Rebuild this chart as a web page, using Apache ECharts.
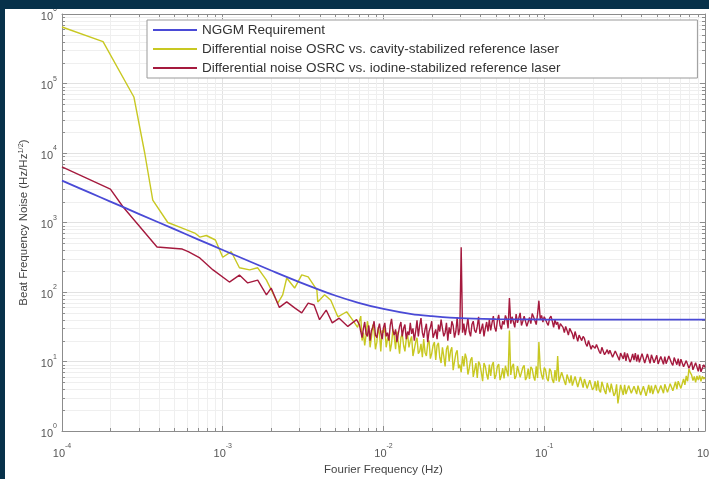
<!DOCTYPE html>
<html>
<head>
<meta charset="utf-8">
<script src="https://cdn.jsdelivr.net/npm/echarts@6/dist/echarts.min.js"></script>
<style>
  html, body { margin: 0; padding: 0; width: 709px; height: 479px; overflow: hidden; background: #07314a; }
  #frame { position: absolute; left: 5px; top: 9px; width: 704px; height: 470px; background: #fff; }
  #chart { width: 704px; height: 470px; }
</style>
</head>
<body>
<div id="frame"><div id="chart"></div></div>
<script>
// tick labels (exponents of 10)
var xExp = ['-4', '-3', '-2', '-1', '0'];
var yExp = ['0', '1', '2', '3', '4', '5', '6'];
var minorMant = [2, 3, 4, 5, 6, 7, 8, 9];
var xDecades = [1e-4, 1e-3, 1e-2, 1e-1];
var yDecades = [1, 10, 100, 1000, 1e4, 1e5];

// NGGM requirement [Hz, Hz/sqrt(Hz)]
var requirement = [
  [1e-4, 4000], [1.5e-4, 2667], [2e-4, 2000], [3e-4, 1334], [5e-4, 801], [7e-4, 573],
  [1e-3, 402], [1.5e-3, 270], [2e-3, 204], [3e-3, 139], [5e-3, 89], [7e-3, 70],
  [1e-2, 57], [1.5e-2, 48], [2e-2, 45], [3e-2, 42], [5e-2, 40.8], [1e-1, 40.2], [1, 40]
];

// low frequency part, read point by point
var cavityLow = [
  [1e-4, 650000], [1.8e-4, 400000], [2.8e-4, 64000], [3.27e-4, 10000], [3.67e-4, 2100],
  [4.55e-4, 1000], [5.6e-4, 830], [6.7e-4, 705], [7.2e-4, 617], [7.9e-4, 650], [9e-4, 560],
  [1e-3, 316], [1.13e-3, 380], [1.27e-3, 223], [1.47e-3, 208], [1.65e-3, 223], [1.87e-3, 148],
  [2.2e-3, 69], [2.36e-3, 91], [2.5e-3, 159], [2.8e-3, 114], [3.1e-3, 176], [3.4e-3, 165],
  [3.85e-3, 107], [3.9e-3, 72], [4.3e-3, 91], [4.7e-3, 76], [5.2e-3, 44], [5.9e-3, 52],
  [6.4e-3, 40], [6.9e-3, 31]
];
var iodineLow = [
  [1e-4, 6300], [2e-4, 3030], [2.4e-4, 1670], [3.9e-4, 445], [5.6e-4, 415], [6.1e-4, 380],
  [7.2e-4, 309], [8.7e-4, 208], [1.1e-3, 139], [1.27e-3, 175], [1.43e-3, 135], [1.65e-3, 148],
  [1.87e-3, 91], [2e-3, 114], [2.25e-3, 60], [2.5e-3, 72], [2.8e-3, 59], [3.1e-3, 50],
  [3.4e-3, 69], [3.7e-3, 65], [4e-3, 40], [4.4e-3, 55], [4.8e-3, 36], [5.3e-3, 42],
  [6e-3, 32], [6.8e-3, 40]
];

// high frequency part, shared frequency bins (Hz)
var hiFreq = [
  0.00708, 0.00722, 0.00736, 0.00750, 0.00764, 0.00779, 0.00794, 0.00810, 0.00825, 0.00841,
  0.00858, 0.00874, 0.00891, 0.00909, 0.00926, 0.00944, 0.00962, 0.00981,
  0.01000, 0.01019, 0.01039, 0.01059, 0.01080, 0.01101, 0.01122, 0.01144, 0.01166, 0.01189,
  0.01212, 0.01235, 0.01259, 0.01283, 0.01308, 0.01334, 0.01359, 0.01386, 0.01413, 0.01440,
  0.01468, 0.01496, 0.01525, 0.01555, 0.01585, 0.01616, 0.01647, 0.01679, 0.01711, 0.01745,
  0.01778, 0.01813, 0.01848, 0.01884, 0.01920, 0.01957, 0.01995, 0.02034, 0.02073, 0.02113,
  0.02154, 0.02196, 0.02239, 0.02282, 0.02326, 0.02371, 0.02417, 0.02464, 0.02512, 0.02561,
  0.02610, 0.02661, 0.02712, 0.02765, 0.02818, 0.02873, 0.02929, 0.02985, 0.03043, 0.03102,
  0.03162, 0.03224, 0.03286, 0.03350, 0.03415, 0.03481, 0.03548, 0.03617, 0.03687, 0.03758,
  0.03831, 0.03905, 0.03981, 0.04058, 0.04137, 0.04217, 0.04299, 0.04382, 0.04467, 0.04553,
  0.04642, 0.04732, 0.04823, 0.04917, 0.05012, 0.05109, 0.05208, 0.05309, 0.05412, 0.05517,
  0.05623, 0.05732, 0.05843, 0.05957, 0.06072, 0.06190, 0.06310, 0.06432, 0.06556, 0.06683,
  0.06813, 0.06945, 0.07079, 0.07217, 0.07356, 0.07499, 0.07644, 0.07792, 0.07943, 0.08097,
  0.08254, 0.08414, 0.08577, 0.08743, 0.08913, 0.09085, 0.09261, 0.09441, 0.09624, 0.09810,
  0.1000, 0.1019, 0.1039, 0.1059, 0.1080, 0.1101, 0.1122, 0.1144, 0.1166, 0.1189,
  0.1212, 0.1235, 0.1259, 0.1283, 0.1308, 0.1334, 0.1359, 0.1386, 0.1413, 0.1440,
  0.1468, 0.1496, 0.1525, 0.1555, 0.1585, 0.1616, 0.1647, 0.1679, 0.1711, 0.1745,
  0.1778, 0.1813, 0.1848, 0.1884, 0.1920, 0.1957, 0.1995, 0.2034, 0.2073, 0.2113,
  0.2154, 0.2196, 0.2239, 0.2282, 0.2326, 0.2371, 0.2417, 0.2464, 0.2512, 0.2561,
  0.2610, 0.2661, 0.2712, 0.2765, 0.2818, 0.2873, 0.2929, 0.2985, 0.3043, 0.3102,
  0.3162, 0.3224, 0.3286, 0.3350, 0.3415, 0.3481, 0.3548, 0.3617, 0.3687, 0.3758,
  0.3831, 0.3905, 0.3981, 0.4058, 0.4137, 0.4217, 0.4299, 0.4382, 0.4467, 0.4553,
  0.4642, 0.4732, 0.4823, 0.4917, 0.5012, 0.5109, 0.5208, 0.5309, 0.5412, 0.5517,
  0.5623, 0.5732, 0.5843, 0.5957, 0.6072, 0.6190, 0.6310, 0.6432, 0.6556, 0.6683,
  0.6813, 0.6945, 0.7079, 0.7217, 0.7356, 0.7499, 0.7644, 0.7792, 0.7943, 0.8097,
  0.8254, 0.8414, 0.8577, 0.8743, 0.8913, 0.9085, 0.9261, 0.9441, 0.9624, 0.9810,
  1.0
];
var cavityHi = [
  32, 45, 20, 26, 17, 24, 38, 29, 16, 22,
  34, 27, 15, 19, 31, 25, 14, 28,
  26, 31, 16, 21, 24, 14, 18, 29, 23, 15,
  27, 19, 13, 22, 25, 17, 14, 21, 24, 16,
  20, 23, 12, 15, 19, 22, 13, 14, 18, 11.5,
  21, 13.5, 12, 18, 20, 11, 13, 17, 19, 10.5,
  17, 18.5, 11.5, 9.5, 16, 12, 8.5, 15, 17, 10,
  14, 16, 7.5, 10, 13, 14.5, 8, 9, 7, 12,
  8.5, 13, 11, 6.5, 8, 10.5, 11.5, 6, 7.5, 9.5,
  5.8, 10, 9, 7, 5.2, 9.5, 8.5, 6.5, 5.5, 9,
  6.2, 8.8, 9.8, 5.6, 6.4, 8.5, 9.2, 5.4, 6.3, 8,
  5.7, 8.7, 9, 6.1, 28, 6.4, 8.4, 9.3, 5.6, 6.2,
  8.6, 9.1, 5.9, 6.3, 8.2, 8.8, 5.4, 6, 7.9, 5.6,
  8.4, 7.8, 6.1, 5.3, 8.5, 5.8, 19, 8.1, 6.4, 5.5,
  8.2, 7.6, 5.7, 5.2, 7.9, 7.3, 5.5, 4.9, 7.5, 5.3,
  12, 5.1, 4.8, 7, 6.8, 5.2, 4.6, 6.5, 6.7, 4.9,
  6.3, 4.5, 4.7, 6.1, 5.9, 4.3, 4.4, 6, 5.7, 4.2,
  5.6, 5.8, 4.1, 4.3, 5.4, 5.5, 3.9, 4.2, 5.2, 3.8,
  5.3, 3.9, 3.6, 5.1, 5, 3.8, 3.4, 4.9, 5, 3.6,
  4.8, 4.9, 3.2, 3.5, 4.7, 2.5, 3.4, 4.6, 4.8, 3.3,
  4.6, 3.4, 3.2, 4.5, 4.7, 3.5, 3.3, 4.4, 4.6, 3.4,
  4.5, 4.7, 3.3, 3.5, 4.4, 4.5, 3.2, 3.4, 4.6, 3.5,
  4.5, 3.4, 3.3, 4.6, 4.7, 3.5, 3.6, 4.5, 4.8, 3.5,
  4.7, 4.9, 3.6, 3.7, 4.8, 5, 3.8, 3.9, 5.1, 4,
  5.2, 5.4, 4.1, 4.3, 5.6, 4.6, 6.2, 5.2, 7.8, 6.9,
  6.4, 5.3, 6.1, 5, 6.2, 5.4, 6.3, 5.2, 6.1, 5.6,
  5.9
];
var iodineHi = [
  34, 27, 22, 30, 37, 25, 23, 33, 20, 28,
  31, 38, 24, 22, 29, 35, 26, 21,
  31, 36, 23, 26, 20, 33, 41, 28, 24, 29,
  19, 25, 32, 37, 23, 30, 34, 21, 27, 24,
  36, 25, 30, 20, 27, 39, 23, 33, 42, 26,
  22, 29, 35, 19, 27, 31, 38, 22, 25, 29,
  21, 34, 27, 40, 30, 23, 26, 36, 20, 31,
  25, 38, 33, 22, 27, 43, 24, 30, 440, 26,
  35, 24, 31, 42, 27, 23, 34, 38, 28, 26,
  32, 44, 25, 29, 35, 23, 30, 37, 27, 40,
  28, 36, 45, 31, 27, 39, 47, 33, 29, 38,
  34, 46, 41, 30, 82, 35, 44, 37, 31, 48,
  36, 42, 50, 33, 38, 45, 47, 32, 37, 43,
  35, 49, 44, 39, 34, 48, 75, 41, 46, 37,
  44, 47, 36, 33, 42, 45, 38, 31, 40, 34,
  37, 29, 35, 33, 31, 26, 32, 28, 24, 30,
  29, 25, 21, 27, 26, 19.5, 24, 23, 20, 23,
  21.5, 18, 16.5, 20, 19.5, 15, 17, 18, 15.5, 17.5,
  16.5, 14, 13, 16, 15.5, 12.5, 13.5, 14.8, 12.8, 14.5,
  15, 11.5, 10.8, 14.2, 14.5, 11.6, 10.4, 13.2, 13.8, 10.9,
  13.5, 10.2, 13.1, 12.8, 9.8, 10.9, 12.9, 10.5, 13.2, 10,
  12.6, 9.7, 10.3, 13, 12.3, 9.5, 10, 12.8, 12.1, 9.4,
  12.5, 12, 9.6, 10, 12.3, 9.2, 9.8, 11.8, 12.1, 9.1,
  11.8, 9.3, 9, 12, 11.5, 9.5, 8.8, 11.4, 11.3, 9,
  11, 8.6, 10.8, 10.5, 8.4, 8.3, 10.3, 10.2, 8, 7.9,
  9.9, 7.6, 7.4, 9.6, 9.4, 7.2, 9.2, 7.1, 7.4, 9,
  8.2
];

function withHi(low, hi) {
  return low.concat(hiFreq.map(function (f, i) { return [f, hi[i]]; }));
}

var minorData = [];
xDecades.forEach(function (d) {
  minorMant.forEach(function (m) { minorData.push([m * d, 1, 0]); });
});
yDecades.forEach(function (d) {
  minorMant.forEach(function (m) { minorData.push([1e-4, m * d, 1]); });
});

function renderMinor(params, api) {
  var isX = api.value(2) === 0;
  var a, b, t = 3;
  if (isX) {
    a = api.coord([api.value(0), 1]);
    b = api.coord([api.value(0), 1e6]);
    var x = Math.round(a[0]) + 0.5;
    return { type: 'group', children: [
      { type: 'line', shape: { x1: x, y1: a[1], x2: x, y2: b[1] }, style: { stroke: '#efefef', lineWidth: 1 } },
      { type: 'line', shape: { x1: x, y1: a[1], x2: x, y2: a[1] - t }, style: { stroke: '#8c8c8c', lineWidth: 1 } },
      { type: 'line', shape: { x1: x, y1: b[1], x2: x, y2: b[1] + t }, style: { stroke: '#8c8c8c', lineWidth: 1 } }
    ] };
  }
  a = api.coord([1e-4, api.value(1)]);
  b = api.coord([1, api.value(1)]);
  var y = Math.round(a[1]) + 0.5;
  return { type: 'group', children: [
    { type: 'line', shape: { x1: a[0], y1: y, x2: b[0], y2: y }, style: { stroke: '#efefef', lineWidth: 1 } },
    { type: 'line', shape: { x1: a[0], y1: y, x2: a[0] + t, y2: y }, style: { stroke: '#8c8c8c', lineWidth: 1 } },
    { type: 'line', shape: { x1: b[0], y1: y, x2: b[0] - t, y2: y }, style: { stroke: '#8c8c8c', lineWidth: 1 } }
  ] };
}

var fontFam = '"Liberation Sans", Arial, sans-serif';
var expRich = {
  b: { fontSize: 11, color: '#555', fontFamily: fontFam, lineHeight: 16, verticalAlign: 'bottom' },
  s: { fontSize: 7, color: '#555', fontFamily: fontFam, lineHeight: 16, verticalAlign: 'top' }
};
var axisCol = '#8c8c8c';

function logAxis(pos, show, labels) {
  return {
    type: 'log', logBase: 10, position: pos,
    axisLine: { show: true, lineStyle: { color: axisCol, width: 1 } },
    axisTick: { show: true, inside: true, length: 5, lineStyle: { color: axisCol } },
    splitLine: { show: show, lineStyle: { color: '#e2e2e2', width: 1 } },
    axisLabel: show ? {
      show: true,
      formatter: function (v, i) { return '{b|10}{s|' + labels[i] + '}'; },
      rich: expRich
    } : { show: false }
  };
}

var xBottom = logAxis('bottom', true, xExp);
xBottom.min = 1e-4; xBottom.max = 1;
xBottom.axisLabel.margin = 12;
xBottom.name = 'Fourier Frequency (Hz)';
xBottom.nameLocation = 'middle';
xBottom.nameGap = 31;
xBottom.nameTextStyle = { fontSize: 11.5, color: '#444', fontFamily: fontFam };
var xTop = logAxis('top', false, xExp);
xTop.min = 1e-4; xTop.max = 1;

var yLeft = logAxis('left', true, yExp);
yLeft.min = 1; yLeft.max = 1e6;
yLeft.axisLabel.margin = 5;
yLeft.name = 'Beat Frequency Noise (Hz/Hz{s|1/2})';
yLeft.nameLocation = 'middle';
yLeft.nameGap = 31;
yLeft.nameTextStyle = {
  fontSize: 11.5, color: '#444', fontFamily: fontFam,
  rich: { s: { fontSize: 7.5, color: '#444', fontFamily: fontFam, verticalAlign: 'top', lineHeight: 14 } }
};
var yRight = logAxis('right', false, yExp);
yRight.min = 1; yRight.max = 1e6;

var chart = echarts.init(document.getElementById('chart'));
chart.setOption({
  animation: false,
  backgroundColor: '#fff',
  grid: { left: 57, right: 4, top: 5, bottom: 48, containLabel: false, outerBoundsMode: 'none' },
  xAxis: [xBottom, xTop],
  yAxis: [yLeft, yRight],
  legend: {
    orient: 'vertical', left: 142, top: 11,
    itemWidth: 44, itemHeight: 14, itemGap: 5,
    padding: [3, 137, 3, 5],
    borderColor: '#9a9a9a', borderWidth: 1, backgroundColor: '#fff',
    itemStyle: { opacity: 0 },
    textStyle: { fontSize: 13.5, color: '#333', fontFamily: fontFam },
    data: ['NGGM Requirement',
      'Differential noise OSRC vs. cavity-stabilized reference laser',
      'Differential noise OSRC vs. iodine-stabilized reference laser']
  },
  series: [
    { type: 'custom', renderItem: renderMinor, data: minorData, encode: { x: 0, y: 1 }, silent: true, z: 1 },
    { name: 'NGGM Requirement', type: 'line', symbol: 'none', smooth: 0.3,
      lineStyle: { color: '#4a4ad6', width: 1.8 }, itemStyle: { color: '#4a4ad6' }, data: requirement, z: 4 },
    { name: 'Differential noise OSRC vs. cavity-stabilized reference laser', type: 'line', symbol: 'none',
      lineStyle: { color: '#c8c822', width: 1.4 }, itemStyle: { color: '#c8c822' }, data: withHi(cavityLow, cavityHi), z: 2 },
    { name: 'Differential noise OSRC vs. iodine-stabilized reference laser', type: 'line', symbol: 'none',
      lineStyle: { color: '#a51a3e', width: 1.4 }, itemStyle: { color: '#a51a3e' }, data: withHi(iodineLow, iodineHi), z: 3 }
  ]
});
</script>
</body>
</html>
